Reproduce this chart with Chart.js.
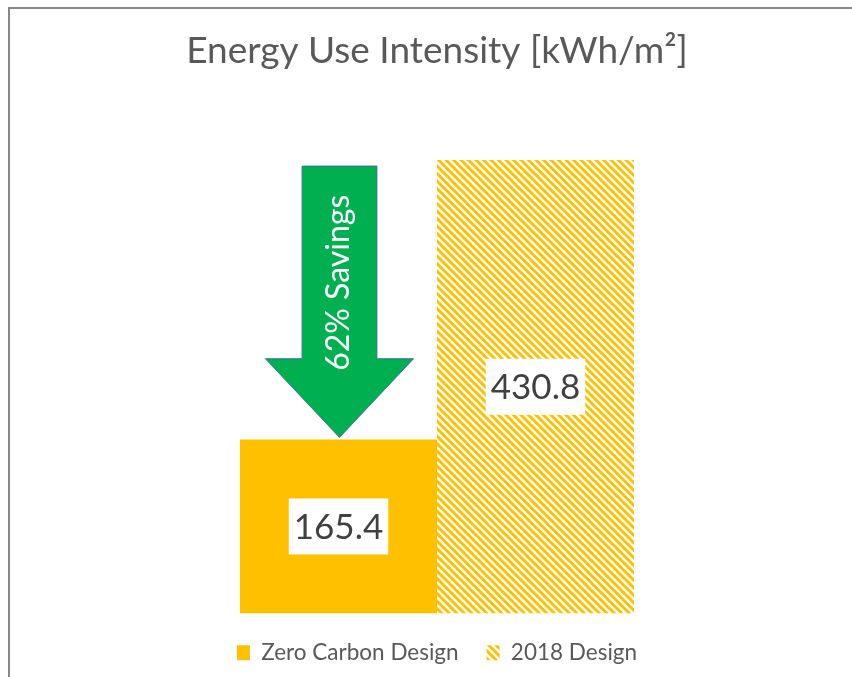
<!DOCTYPE html>
<html>
<head>
<meta charset="utf-8">
<script src="https://cdn.jsdelivr.net/npm/chart.js@4/dist/chart.umd.min.js"></script>
<style>
  html, body { margin: 0; padding: 0; background: #fff; overflow: hidden; width: 852px; height: 677px; }
  #frame { position: absolute; left: 8px; top: 7px; width: 856px; height: 720px;
           border-left: 2px solid #878787; border-top: 2px solid #878787; }
  #c { display: block; }
</style>
</head>
<body>
<div id="frame"><canvas id="c" width="854" height="665"></canvas></div>
<script>
// ---- data ----
const categories = ['Energy Use Intensity'];
const seriesNames = ['Zero Carbon Design', '2018 Design'];
const zeroCarbon = [165.4];
const design2018 = [430.8];
const titleText = 'Energy Use Intensity [kWh/m²]';
const savingsText = '62% Savings';
const valueLabels = ['165.4', '430.8'];

// ---- styles ----
const GOLD = '#FFC000';
const GREEN = '#00B050';
const FONT = 'Lato, "Open Sans", sans-serif';

function makeHatch() {
  const s = 15;
  const tile = document.createElement('canvas');
  tile.width = s; tile.height = s;
  const g = tile.getContext('2d');
  g.fillStyle = '#ffffff';
  g.fillRect(0, 0, s, s);
  g.strokeStyle = GOLD;
  g.lineWidth = 3;
  for (let k = -15; k <= 15; k += 7.5) {
    g.beginPath();
    g.moveTo(k - 5, -5);
    g.lineTo(k + s + 5, s + 5);
    g.stroke();
  }
  return document.createElement('canvas').getContext('2d').createPattern(tile, 'repeat');
}
const hatch = makeHatch();

const arrowPlugin = {
  id: 'savingsArrow',
  afterDatasetsDraw(chart) {
    const ctx = chart.ctx;
    const ys = chart.scales.y;
    const b1 = chart.getDatasetMeta(0).data[0];
    const top = ys.getPixelForValue(design2018[0]) + 6;
    const tip = ys.getPixelForValue(zeroCarbon[0]) - 2;
    const cx = b1.x + 1;
    const w = b1.width;
    const sh = w * 0.19, hh = w * 0.376;
    const headLen = (tip - top) * 0.29;
    const hy = tip - headLen;
    ctx.save();
    ctx.beginPath();
    ctx.moveTo(cx - sh, top);
    ctx.lineTo(cx + sh, top);
    ctx.lineTo(cx + sh, hy);
    ctx.lineTo(cx + hh, hy);
    ctx.lineTo(cx, tip);
    ctx.lineTo(cx - hh, hy);
    ctx.lineTo(cx - sh, hy);
    ctx.closePath();
    ctx.fillStyle = GREEN;
    ctx.fill();
    ctx.lineWidth = 1;
    ctx.strokeStyle = '#41719C';
    ctx.stroke();
    // rotated text
    ctx.translate(cx - 1, top + (tip - top) * 0.43);
    ctx.rotate(-Math.PI / 2);
    ctx.fillStyle = '#ffffff';
    ctx.font = '32px ' + FONT;
    ctx.textAlign = 'center';
    ctx.textBaseline = 'middle';
    ctx.fillText(savingsText, 0, 0);
    ctx.restore();
  }
};

const labelPlugin = {
  id: 'valueBoxes',
  afterDatasetsDraw(chart) {
    const ctx = chart.ctx;
    ctx.save();
    ctx.font = '35px ' + FONT;
    ctx.textAlign = 'center';
    ctx.textBaseline = 'middle';
    chart.data.datasets.forEach((ds, i) => {
      const bar = chart.getDatasetMeta(i).data[0];
      const cx = bar.x;
      const cy = (bar.y + bar.base) / 2;
      const t = valueLabels[i];
      const tw = ctx.measureText(t).width;
      const bw = tw + 10, bh = 56;
      ctx.fillStyle = '#ffffff';
      ctx.fillRect(cx - bw / 2, cy - bh / 2, bw, bh);
      ctx.fillStyle = '#404040';
      ctx.fillText(t, cx, cy + 1);
    });
    ctx.restore();
  }
};

new Chart(document.getElementById('c'), {
  type: 'bar',
  data: {
    labels: categories,
    datasets: [
      { label: seriesNames[0], data: zeroCarbon, backgroundColor: GOLD, borderWidth: 0,
        categoryPercentage: 394 / 854, barPercentage: 1 },
      { label: seriesNames[1], data: design2018, backgroundColor: hatch, borderWidth: 0,
        categoryPercentage: 394 / 854, barPercentage: 1 }
    ]
  },
  options: {
    responsive: false,
    animation: false,
    devicePixelRatio: 1,
    layout: { padding: 0 },
    scales: {
      x: { display: false },
      y: { display: false, min: 0, max: 500 }
    },
    plugins: {
      tooltip: { enabled: false },
      title: {
        display: true,
        text: titleText,
        color: '#595959',
        font: { family: FONT, size: 37, weight: 'normal', lineHeight: 1.2 },
        padding: { top: 20, bottom: 13.85 }
      },
      legend: {
        display: true,
        position: 'bottom',
        labels: {
          color: '#595959',
          font: { family: FONT, size: 22.5 },
          boxWidth: 13,
          boxHeight: 15,
          padding: 28
        }
      }
    }
  },
  plugins: [arrowPlugin, labelPlugin]
});
</script>
</body>
</html>
